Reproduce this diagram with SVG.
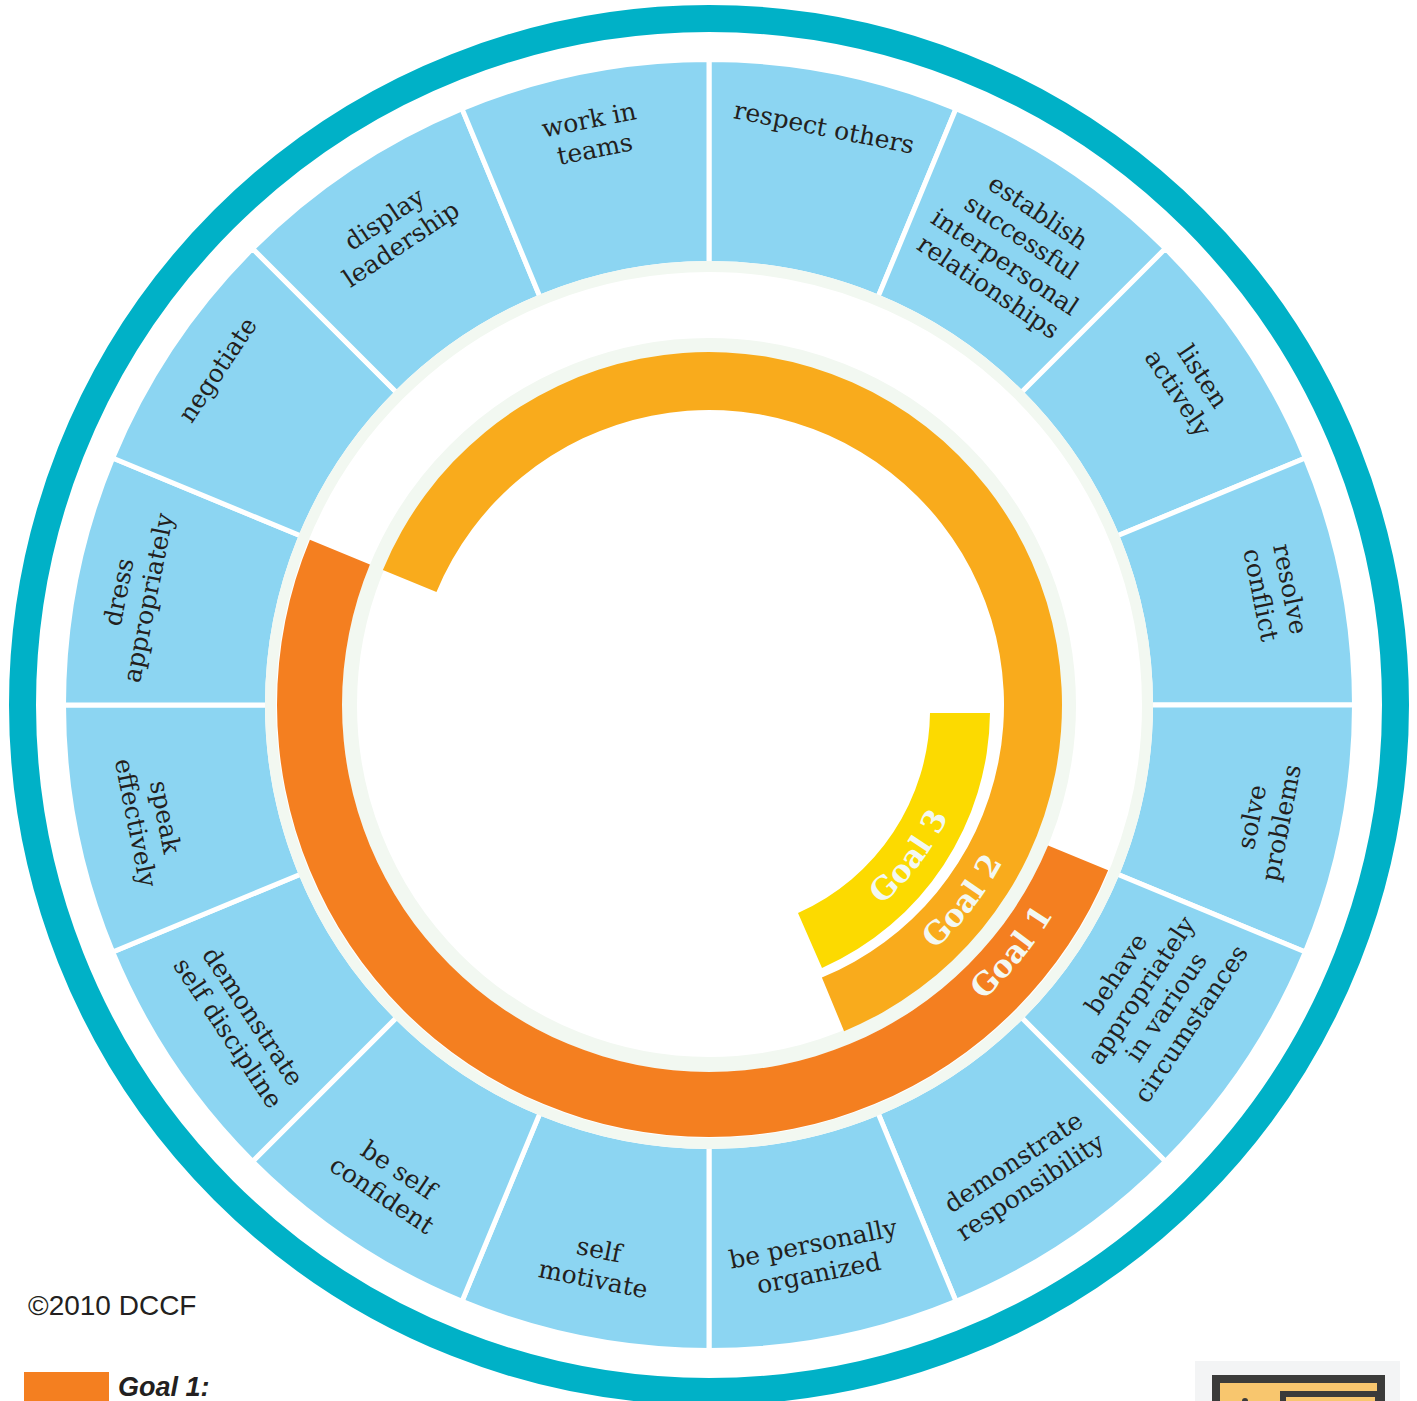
<svg xmlns="http://www.w3.org/2000/svg" width="1417" height="1401" viewBox="0 0 1417 1401">
<defs>
<style>
.seg{fill:#8CD5F2;stroke:#fff;stroke-width:5;stroke-linejoin:miter}
.lbl{font-family:"DejaVu Serif","Liberation Serif",serif;font-size:25px;fill:#231F20;text-anchor:middle}
.goal{font-family:"DejaVu Serif","Liberation Serif",serif;font-size:31px;font-weight:bold;fill:#F3F8F2;text-anchor:middle}
</style>
<path id="p1" d="M 852.1 1081.7 A 403 403 0 0 0 1106.8 769.4" fill="none"/>
<path id="p2" d="M 835.4 1013.1 A 333 333 0 0 0 1039.0 749.6" fill="none"/>
<path id="p3" d="M 811.7 948.2 A 264 264 0 0 0 971.0 737.6" fill="none"/>
</defs>
<rect width="1417" height="1401" fill="#fff"/>
<circle id="outer-ring" cx="709" cy="705" r="686.5" fill="none" stroke="#00B1C7" stroke-width="27"/>

<g id="n-respect-others"><path class="seg" d="M 709 59.5 A 645.5 645.5 0 0 1 956.02 108.64 L 877.95 297.11 A 441.5 441.5 0 0 0 709 263.5 Z"/>
<text class="lbl" transform="translate(824 128) rotate(11.25)"><tspan x="0" y="8">respect others</tspan></text></g>

<g id="n-establish"><path class="seg" d="M 956.02 108.64 A 645.5 645.5 0 0 1 1165.44 248.56 L 1021.19 392.81 A 441.5 441.5 0 0 0 877.95 297.11 Z"/>
<text class="lbl" transform="translate(1013 250) rotate(33.75)"><tspan x="0" y="-37">establish</tspan><tspan x="0" y="-7">successful</tspan><tspan x="0" y="23">interpersonal</tspan><tspan x="0" y="53">relationships</tspan></text></g>

<g id="n-listen"><path class="seg" d="M 1165.44 248.56 A 645.5 645.5 0 0 1 1305.36 457.98 L 1116.89 536.05 A 441.5 441.5 0 0 0 1021.19 392.81 Z"/>
<text class="lbl" transform="translate(1190 385) rotate(56.25)"><tspan x="0" y="-7">listen</tspan><tspan x="0" y="23">actively</tspan></text></g>

<g id="n-resolve"><path class="seg" d="M 1305.36 457.98 A 645.5 645.5 0 0 1 1354.5 705 L 1150.5 705 A 441.5 441.5 0 0 0 1116.89 536.05 Z"/>
<text class="lbl" transform="translate(1275 592) rotate(78.75)"><tspan x="0" y="-7">resolve</tspan><tspan x="0" y="23">conflict</tspan></text></g>

<g id="n-solve"><path class="seg" d="M 1354.5 705 A 645.5 645.5 0 0 1 1305.36 952.02 L 1116.89 873.95 A 441.5 441.5 0 0 0 1150.5 705 Z"/>
<text class="lbl" transform="translate(1267 820) rotate(-78.75)"><tspan x="0" y="-7">solve</tspan><tspan x="0" y="23">problems</tspan></text></g>

<g id="n-behave"><path class="seg" d="M 1305.36 952.02 A 645.5 645.5 0 0 1 1165.44 1161.44 L 1021.19 1017.19 A 441.5 441.5 0 0 0 1116.89 873.95 Z"/>
<text class="lbl" transform="translate(1154 999) rotate(-56.25)"><tspan x="0" y="-37">behave</tspan><tspan x="0" y="-7">appropriately</tspan><tspan x="0" y="23">in various</tspan><tspan x="0" y="53">circumstances</tspan></text></g>

<g id="n-responsibility"><path class="seg" d="M 1165.44 1161.44 A 645.5 645.5 0 0 1 956.02 1301.36 L 877.95 1112.89 A 441.5 441.5 0 0 0 1021.19 1017.19 Z"/>
<text class="lbl" transform="translate(1022 1175) rotate(-33.75)"><tspan x="0" y="-7">demonstrate</tspan><tspan x="0" y="23">responsibility</tspan></text></g>

<g id="n-organized"><path class="seg" d="M 956.02 1301.36 A 645.5 645.5 0 0 1 709 1350.5 L 709 1146.5 A 441.5 441.5 0 0 0 877.95 1112.89 Z"/>
<text class="lbl" transform="translate(816 1259) rotate(-11.25)"><tspan x="0" y="-7">be personally</tspan><tspan x="0" y="23">organized</tspan></text></g>

<g id="n-self-motivate"><path class="seg" d="M 709 1350.5 A 645.5 645.5 0 0 1 461.98 1301.36 L 540.05 1112.89 A 441.5 441.5 0 0 0 709 1146.5 Z"/>
<text class="lbl" transform="translate(596 1265) rotate(11.25)"><tspan x="0" y="-7">self</tspan><tspan x="0" y="23">motivate</tspan></text></g>

<g id="n-confident"><path class="seg" d="M 461.98 1301.36 A 645.5 645.5 0 0 1 252.56 1161.44 L 396.81 1017.19 A 441.5 441.5 0 0 0 540.05 1112.89 Z"/>
<text class="lbl" transform="translate(390 1183) rotate(33.75)"><tspan x="0" y="-7">be self</tspan><tspan x="0" y="23">confident</tspan></text></g>

<g id="n-discipline"><path class="seg" d="M 252.56 1161.44 A 645.5 645.5 0 0 1 112.64 952.02 L 301.11 873.95 A 441.5 441.5 0 0 0 396.81 1017.19 Z"/>
<text class="lbl" transform="translate(240 1025) rotate(56.25)"><tspan x="0" y="-7">demonstrate</tspan><tspan x="0" y="23">self discipline</tspan></text></g>

<g id="n-speak"><path class="seg" d="M 112.64 952.02 A 645.5 645.5 0 0 1 63.5 705 L 267.5 705 A 441.5 441.5 0 0 0 301.11 873.95 Z"/>
<text class="lbl" transform="translate(150 820) rotate(78.75)"><tspan x="0" y="-7">speak</tspan><tspan x="0" y="23">effectively</tspan></text></g>

<g id="n-dress"><path class="seg" d="M 63.5 705 A 645.5 645.5 0 0 1 112.64 457.98 L 301.11 536.05 A 441.5 441.5 0 0 0 267.5 705 Z"/>
<text class="lbl" transform="translate(134 595) rotate(-78.75)"><tspan x="0" y="-7">dress</tspan><tspan x="0" y="23">appropriately</tspan></text></g>

<g id="n-negotiate"><path class="seg" d="M 112.64 457.98 A 645.5 645.5 0 0 1 252.56 248.56 L 396.81 392.81 A 441.5 441.5 0 0 0 301.11 536.05 Z"/>
<text class="lbl" transform="translate(218 370) rotate(-56.25)"><tspan x="0" y="8">negotiate</tspan></text></g>

<g id="n-leadership"><path class="seg" d="M 252.56 248.56 A 645.5 645.5 0 0 1 461.98 108.64 L 540.05 297.11 A 441.5 441.5 0 0 0 396.81 392.81 Z"/>
<text class="lbl" transform="translate(393 232) rotate(-33.75)"><tspan x="0" y="-7">display</tspan><tspan x="0" y="23">leadership</tspan></text></g>

<g id="n-teams"><path class="seg" d="M 461.98 108.64 A 645.5 645.5 0 0 1 709 59.5 L 709 263.5 A 441.5 441.5 0 0 0 540.05 297.11 Z"/>
<text class="lbl" transform="translate(592 135) rotate(-11.25)"><tspan x="0" y="-7">work in</tspan><tspan x="0" y="23">teams</tspan></text></g>

<g id="pale-rings" fill="none" stroke="#F2F8F1">
<circle cx="709" cy="705" r="438.5" stroke-width="11"/>
<circle cx="709" cy="705" r="359.5" stroke-width="15"/>
</g>

<g id="goal-1"><path fill="#F47F20" d="M 1108.12 870.32 A 432 432 0 0 1 543.68 1104.12 A 432 432 0 0 1 309.88 539.68 L 369.94 564.56 A 367 367 0 0 0 568.56 1044.06 A 367 367 0 0 0 1048.06 845.44 Z"/>
<text class="goal"><textPath href="#p1" startOffset="50%">Goal 1</textPath></text></g>

<g id="goal-2"><path fill="#F9AB1C" d="M 382.87 569.91 A 353 353 0 1 1 844.09 1031.13 L 821.89 977.54 A 295 295 0 1 0 436.46 592.11 Z"/>
<text class="goal"><textPath href="#p2" startOffset="50%">Goal 2</textPath></text></g>

<g id="goal-3"><path fill="#FCDA00" d="M 990 713 A 282 282 0 0 1 822 968 L 798 913 A 222 222 0 0 0 930 713 Z"/>
<text class="goal"><textPath href="#p3" startOffset="50%">Goal 3</textPath></text></g>

<g id="legend">
<text x="28" y="1315" font-family="Liberation Sans, Arial, sans-serif" font-size="28" fill="#231F20">©2010 DCCF</text>
<rect x="24" y="1372" width="85" height="29" fill="#F47F20"/>
<text x="118" y="1396" font-family="Liberation Sans, Arial, sans-serif" font-size="27" font-weight="bold" font-style="italic" fill="#231F20">Goal 1:</text>
</g>

<g id="corner-icon">
<rect x="1195" y="1361" width="205" height="40" fill="#F3F4F5"/>
<rect x="1212" y="1375" width="173" height="30" fill="#3B3B3A"/>
<rect x="1220" y="1383" width="157" height="20" fill="#F8C66E"/>
<rect x="1280" y="1391" width="97" height="12" fill="#3B3B3A"/>
<rect x="1286" y="1397" width="89" height="6" fill="#F8C66E"/>
<circle cx="1245" cy="1401" r="3" fill="#3B3B3A"/>
</g>
</svg>
